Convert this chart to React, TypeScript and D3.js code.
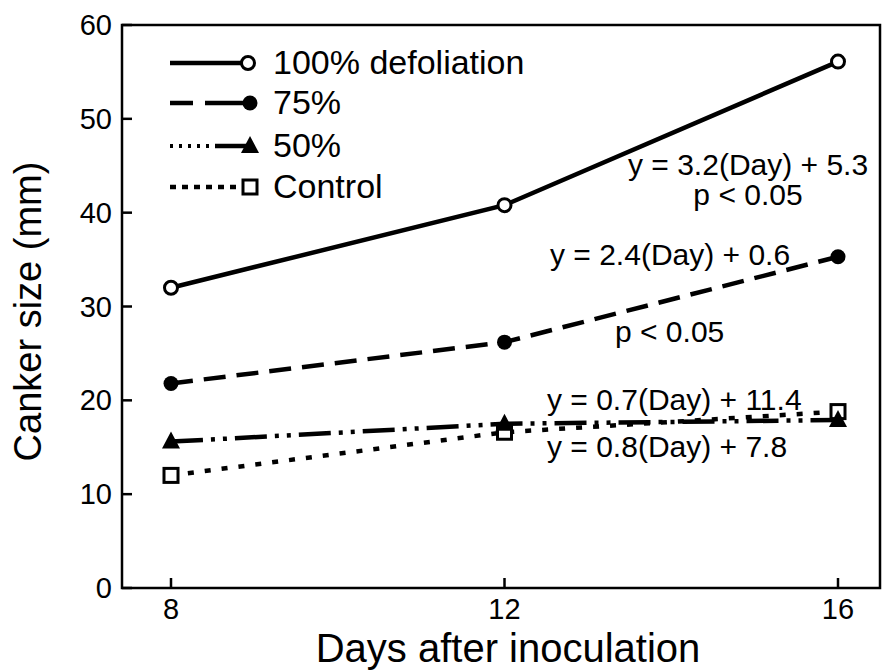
import React, { useRef, useEffect } from 'react';
import * as d3 from 'd3';

// datos
const days = [8, 12, 16];
const defol100 = [32.0, 40.8, 56.1];
const defol75 = [21.8, 26.2, 35.3];
const defol50 = [15.6, 17.5, 17.9];
const control = [12.0, 16.6, 18.8];

const seriesNames = ['100% defoliation', '75%', '50%', 'Control'];
const yTicks = [0, 10, 20, 30, 40, 50, 60];
const xTicks = [8, 12, 16];

const equations = [
  { text: 'y = 3.2(Day) + 5.3', x: 628, y: 175, anchor: 'start' },
  { text: 'p < 0.05', x: 748, y: 205, anchor: 'middle' },
  { text: 'y = 2.4(Day) + 0.6', x: 550, y: 265, anchor: 'start' },
  { text: 'p < 0.05', x: 615, y: 342, anchor: 'start' },
  { text: 'y = 0.7(Day) + 11.4', x: 547, y: 410, anchor: 'start' },
  { text: 'y = 0.8(Day) + 7.8', x: 547, y: 457, anchor: 'start' },
];

const FONT = "'Liberation Sans', Arial, Helvetica, sans-serif";

const App = () => {
  const svgRef = useRef<SVGSVGElement | null>(null);
  const width = 883;
  const height = 672;

  useEffect(() => {
    const svg = d3.select(svgRef.current);
    svg.selectAll('*').remove();

    const left = 122, right = 880, top = 25, bottom = 588;

    const x = d3.scaleLinear().domain([8, 16]).range([171, 838]);
    const y = d3.scaleLinear().domain([0, 60]).range([bottom, top]);

    const g = svg.append('g').attr('font-family', FONT);

    // marco
    g.append('path')
      .attr('d', `M${left},${top}H${right}V${bottom}H${left}Z`)
      .attr('fill', 'none')
      .attr('stroke', '#000')
      .attr('stroke-width', 2.5);

    // ticks eje Y (hacia dentro)
    yTicks.forEach(t => {
      g.append('line')
        .attr('x1', left).attr('x2', left + 10)
        .attr('y1', y(t)).attr('y2', y(t))
        .attr('stroke', '#000').attr('stroke-width', 2.5);
      g.append('text')
        .attr('x', 112).attr('y', y(t) + 10)
        .attr('text-anchor', 'end')
        .attr('font-size', 29)
        .text(t);
    });

    // ticks eje X
    xTicks.forEach(t => {
      g.append('line')
        .attr('x1', x(t)).attr('x2', x(t))
        .attr('y1', bottom).attr('y2', bottom - 10)
        .attr('stroke', '#000').attr('stroke-width', 2.5);
      g.append('text')
        .attr('x', x(t)).attr('y', 619)
        .attr('text-anchor', 'middle')
        .attr('font-size', 29)
        .text(t);
    });

    // títulos de ejes
    g.append('text')
      .attr('x', 508).attr('y', 662)
      .attr('text-anchor', 'middle')
      .attr('font-size', 40)
      .text('Days after inoculation');

    g.append('text')
      .attr('transform', `translate(41,${(top + bottom) / 2 + 5}) rotate(-90)`)
      .attr('text-anchor', 'middle')
      .attr('font-size', 38)
      .text('Canker size (mm)');

    const series = [
      { values: defol100, dash: null, width: 4.5 },
      { values: defol75, dash: '22,11', width: 4.5 },
      { values: defol50, dash: '32,8,4,8,4,8', width: 4.5 },
      { values: control, dash: '6,11', width: 4.5 },
    ];

    const line = d3.line<[number, number]>()
      .x(d => x(d[0]))
      .y(d => y(d[1]));

    series.forEach(s => {
      const pts = days.map((d, i) => [d, s.values[i]] as [number, number]);
      const p = g.append('path')
        .datum(pts)
        .attr('fill', 'none')
        .attr('stroke', '#000')
        .attr('stroke-width', s.width)
        .attr('d', line);
      if (s.dash) p.attr('stroke-dasharray', s.dash);
    });

    // marcadores
    const drawMarker = (kind: number, cx: number, cy: number) => {
      if (kind === 0) {
        g.append('circle').attr('cx', cx).attr('cy', cy).attr('r', 6.5)
          .attr('fill', '#fff').attr('stroke', '#000').attr('stroke-width', 3);
      } else if (kind === 1) {
        g.append('circle').attr('cx', cx).attr('cy', cy).attr('r', 7.5)
          .attr('fill', '#000');
      } else if (kind === 2) {
        g.append('path')
          .attr('d', `M${cx},${cy - 10}L${cx + 9},${cy + 7}L${cx - 9},${cy + 7}Z`)
          .attr('fill', '#000');
      } else {
        g.append('rect').attr('x', cx - 7).attr('y', cy - 7)
          .attr('width', 14).attr('height', 14)
          .attr('fill', '#fff').attr('stroke', '#000').attr('stroke-width', 3);
      }
    };

    [defol100, defol75, control, defol50].forEach(vals => {
      const kind = [defol100, defol75, defol50, control].indexOf(vals);
      days.forEach((d, i) => drawMarker(kind, x(d), y(vals[i])));
    });

    // leyenda
    const legendY = [63, 103, 146, 187];
    seriesNames.forEach((name, i) => {
      const ly = legendY[i];
      if (i === 0) {
        g.append('line').attr('x1', 170).attr('x2', 245).attr('y1', ly).attr('y2', ly)
          .attr('stroke', '#000').attr('stroke-width', 4.5);
      } else if (i === 1) {
        g.append('line').attr('x1', 245).attr('x2', 170).attr('y1', ly).attr('y2', ly)
          .attr('stroke', '#000').attr('stroke-width', 4.5).attr('stroke-dasharray', '40,12');
      } else if (i === 2) {
        g.append('line').attr('x1', 170).attr('x2', 212).attr('y1', ly).attr('y2', ly)
          .attr('stroke', '#000').attr('stroke-width', 4).attr('stroke-dasharray', '3,6');
        g.append('line').attr('x1', 215).attr('x2', 248).attr('y1', ly).attr('y2', ly)
          .attr('stroke', '#000').attr('stroke-width', 4.5);
      } else {
        g.append('line').attr('x1', 170).attr('x2', 240).attr('y1', ly).attr('y2', ly)
          .attr('stroke', '#000').attr('stroke-width', 4.5).attr('stroke-dasharray', '6,6');
      }
      drawMarker(i, i === 0 ? 248 : 250, ly);
      g.append('text')
        .attr('x', 273).attr('y', ly + 11)
        .attr('font-size', 34)
        .text(name);
    });

    // ecuaciones de regresión
    equations.forEach(e => {
      g.append('text')
        .attr('x', e.x).attr('y', e.y)
        .attr('text-anchor', e.anchor)
        .attr('font-size', 30)
        .text(e.text);
    });
  }, []);

  return (
    <svg ref={svgRef} width={width} height={height}
      style={{ position: 'absolute', left: 0, top: 0, background: '#fff' }} />
  );
};

export default App;
